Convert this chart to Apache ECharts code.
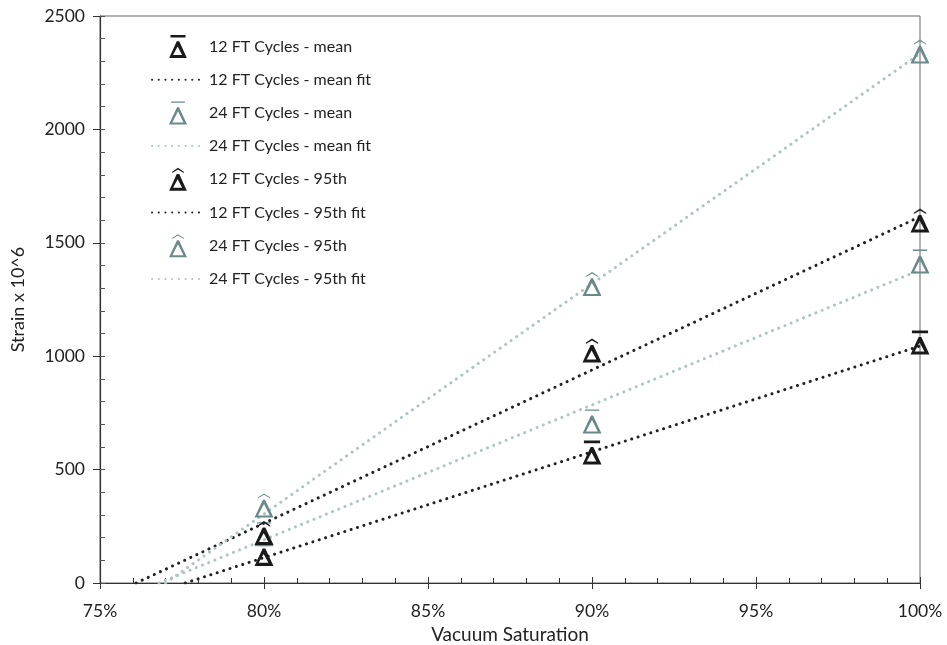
<!DOCTYPE html>
<html><head><meta charset="utf-8">
<script src="https://cdn.jsdelivr.net/npm/echarts@6/dist/echarts.min.js"></script>
<style>html,body{margin:0;padding:0;background:#fff}#c{width:947px;height:645px}</style>
</head><body><div id="c"></div>
<script>
// Data (x in % vacuum saturation)
var xVals = [80, 90, 100];
var mean12 = [128, 575, 1060];
var mean24 = [215, 712, 1417];
var p95_12 = [220, 1025, 1598];
var p95_24 = [342, 1318, 2343];
// Trendline endpoints [x%, strain]
var fitMean12 = [[77.6, 0], [100, 1045]];
var fitMean24 = [[76.8, 0], [100, 1380]];
var fitP95_12 = [[76.1, 0], [100, 1615]];
var fitP95_24 = [[77.0, 0], [100, 2334]];
var xTicks = [75, 80, 85, 90, 95, 100];
var yTicks = [0, 500, 1000, 1500, 2000, 2500];
var names = ['12 FT Cycles - mean', '12 FT Cycles - mean fit', '24 FT Cycles - mean', '24 FT Cycles - mean fit',
             '12 FT Cycles - 95th', '12 FT Cycles - 95th fit', '24 FT Cycles - 95th', '24 FT Cycles - 95th fit'];

var DARK = '#1a1a1a', LIGHT = '#6a898a', DARKLINE = '#222222', LIGHTLINE = '#afc4c4';
// Delta glyph: thin left stroke, thick right stroke and base
var triBold = 'M8.6 7 L11.4 7 L20 26 L0 26 Z M9.6 13 L4.4 22.6 L14.6 22.6 Z';
var triLight = 'M8.9 7 L11.1 7 L20 26 L0 26 Z M10 11.6 L3.7 23.8 L16.1 23.8 Z';
var barDark = 'M1.5 0 L18.5 0 L18.5 2.8 L1.5 2.8 Z';
var barLight = 'M2.5 0.6 L17.5 0.6 L17.5 2 L2.5 2 Z';
var hatDark = 'M3.5 4.6 L10 0 L16.5 4.6 L16.5 6 L10 2 L3.5 6 Z';
var hatLight = 'M3.5 4.6 L10 0.3 L16.5 4.6 L16.5 5.6 L10 1.8 L3.5 5.6 Z';
var symMeanDark = 'path://' + barDark + ' ' + triBold;
var symMeanLight = 'path://' + barLight + ' ' + triLight;
var symHatDark = 'path://' + hatDark + ' ' + triBold;
var symHatLight = 'path://' + hatLight + ' ' + triLight;

function pts(arr) { return xVals.map(function (x, i) { return [x, arr[i]]; }); }
function scat(name, arr, sym, col) {
  return { name: name, type: 'scatter', data: pts(arr), symbol: sym, symbolSize: [19, 24],
    itemStyle: { color: col, opacity: 1 }, z: 3, emphasis: { disabled: true } };
}
function fit(name, d, col) {
  return { name: name, type: 'line', data: d, symbol: 'none', silent: true, z: 2,
    lineStyle: { color: col, width: 3, type: [0.1, 6.6], cap: 'round' }, itemStyle: { color: col, opacity: 0 } };
}
var FONT = 'Lato';
var chart = echarts.init(document.getElementById('c'));
chart.setOption({
  animation: false,
  textStyle: { fontFamily: FONT },
  grid: { left: 100, right: 27, top: 16, bottom: 62, show: true, borderColor: '#666', borderWidth: 1,
          outerBoundsMode: 'none', containLabel: false },
  legend: {
    orient: 'vertical', left: 146, top: 30, itemWidth: 52, itemHeight: 23, itemGap: 12.5,
    textStyle: { fontFamily: FONT, fontSize: 16, color: '#222' },
    data: names.map(function (n, i) { return i % 2 ? { name: n, itemStyle: { opacity: 0 } } : { name: n }; })
  },
  xAxis: [{
    type: 'value', min: 75, max: 100, interval: 5, gridIndex: 0,
    name: 'Vacuum Saturation', nameLocation: 'middle', nameGap: 39,
    nameTextStyle: { fontFamily: FONT, fontSize: 19, color: '#222' },
    axisLine: { onZero: false, lineStyle: { color: '#333', width: 1.2 } },
    axisTick: { show: true, length: 6, inside: false, lineStyle: { color: '#333' } },
    axisLabel: { margin: 19, fontSize: 17.5, color: '#222', formatter: function (v) { return xTicks.indexOf(v) >= 0 ? v + '%' : ''; } },
    splitLine: { show: false }
  }, {
    type: 'value', min: 75, max: 100, interval: 5, gridIndex: 0, position: 'bottom',
    axisLine: { show: false }, axisLabel: { show: false }, splitLine: { show: false },
    axisTick: { show: true, length: 6, inside: true, lineStyle: { color: '#333' } },
    minorTick: { show: true, splitNumber: 5, length: 5, lineStyle: { color: '#333' } }
  }],
  yAxis: [{
    type: 'value', min: 0, max: 2500, interval: 500, gridIndex: 0,
    name: 'Strain x 10^6', nameLocation: 'middle', nameGap: 73, nameRotate: 90,
    nameTextStyle: { fontFamily: FONT, fontSize: 18, color: '#222' },
    axisLine: { show: true, onZero: false, lineStyle: { color: '#333', width: 1.2 } },
    axisTick: { show: true, length: 7, inside: false, lineStyle: { color: '#333' } },
    axisLabel: { margin: 15, fontSize: 17.5, color: '#222', formatter: function (v) { return yTicks.indexOf(v) >= 0 ? String(v) : ''; } },
    splitLine: { show: false }
  }, {
    type: 'value', min: 0, max: 2500, interval: 500, gridIndex: 0, position: 'left',
    axisLine: { show: false }, axisLabel: { show: false }, splitLine: { show: false },
    axisTick: { show: true, length: 5, inside: true, lineStyle: { color: '#555' } },
    minorTick: { show: true, splitNumber: 5, length: 5, lineStyle: { color: '#555' } }
  }],
  series: [
    scat(names[0], mean12, symMeanDark, DARK),
    fit(names[1], fitMean12, DARKLINE),
    scat(names[2], mean24, symMeanLight, LIGHT),
    fit(names[3], fitMean24, LIGHTLINE),
    scat(names[4], p95_12, symHatDark, DARK),
    fit(names[5], fitP95_12, DARKLINE),
    scat(names[6], p95_24, symHatLight, LIGHT),
    fit(names[7], fitP95_24, LIGHTLINE)
  ]
});
</script></body></html>
